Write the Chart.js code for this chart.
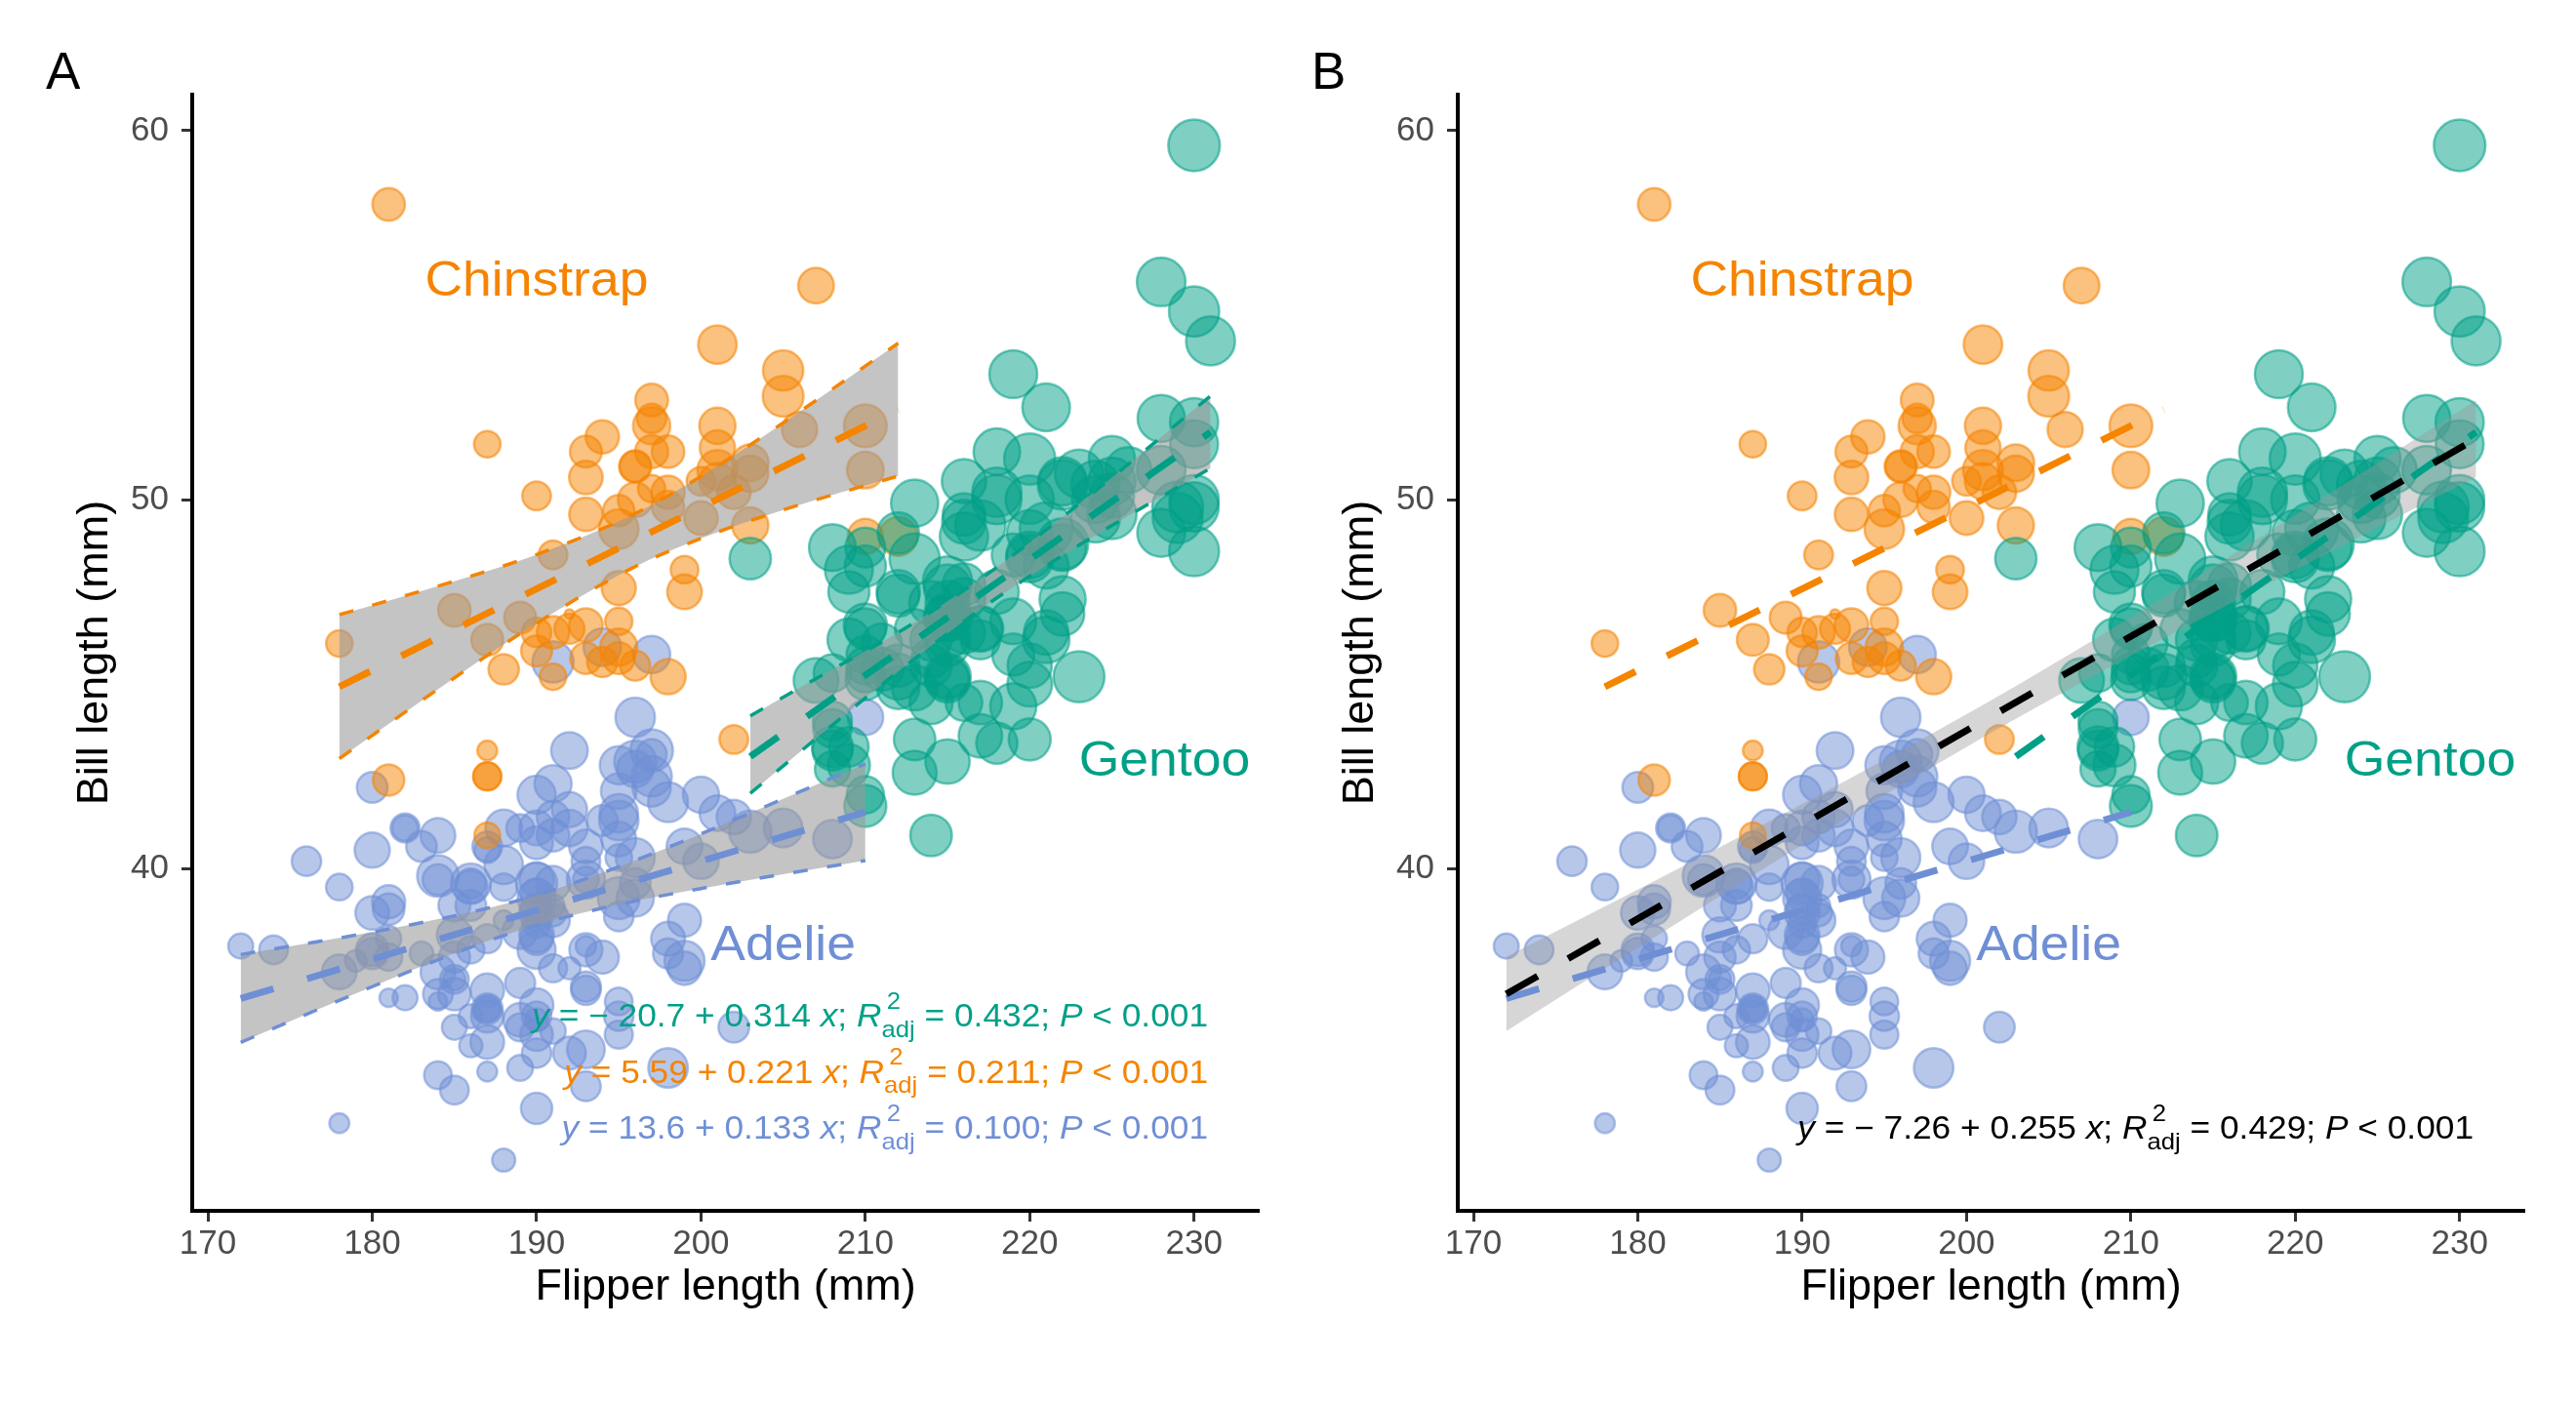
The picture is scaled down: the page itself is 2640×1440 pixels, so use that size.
<!DOCTYPE html>
<html><head><meta charset="utf-8">
<script src="https://cdn.jsdelivr.net/npm/chart.js@4.4.1/dist/chart.umd.min.js"></script>
<style>
html,body{margin:0;padding:0;background:#fff;}
#wrap{position:relative;width:2640px;height:1440px;overflow:hidden;background:#fff;}
canvas{position:absolute;top:0;}
</style></head><body>
<div id="wrap">
<canvas id="cA" width="1320" height="1440" style="left:0px"></canvas>
<canvas id="cB" width="1320" height="1440" style="left:1297px"></canvas>
</div>
<script>
// ---------------- data ----------------
const speciesNames = ['Adelie', 'Chinstrap', 'Gentoo'];
// rows: [flipper length (mm), bill length (mm), body mass (g)]
const adelie = [
[181,39.1,3750],[186,39.5,3800],[195,40.3,3250],[193,36.7,3450],[190,39.3,3650],[181,38.9,3625],[195,39.2,4675],[193,34.1,3475],[190,42.0,4250],[186,37.8,3300],
[180,37.8,3700],[182,41.1,3200],[191,38.6,3800],[198,34.6,4400],[185,36.6,3700],[195,38.7,3450],[197,42.5,4500],[184,34.4,3325],[194,46.0,4200],[174,37.8,3400],
[180,37.7,3600],[189,35.9,3800],[185,38.2,3950],[180,38.8,3800],[187,35.3,3800],[183,40.6,3550],[187,40.5,3200],[172,37.9,3150],[180,40.5,3950],[178,39.5,3250],
[178,37.2,3900],[188,39.5,3300],[184,40.9,3900],[195,36.4,3325],[196,39.2,4150],[190,38.8,3950],[180,42.2,3550],[181,37.6,3300],[184,39.8,4650],[182,36.5,3150],
[195,40.8,3900],[186,36.0,3100],[196,44.1,4400],[185,37.0,3000],[190,39.6,4600],[182,41.1,3425],[179,37.5,2975],[190,36.0,3450],[191,42.3,4150],[186,39.6,3500],
[188,40.1,4300],[190,35.0,3450],[200,42.0,4050],[187,34.5,2900],[191,41.4,3700],[186,39.0,3550],[193,40.6,3800],[181,36.5,2850],[194,37.6,3750],[185,35.7,3150],
[195,41.3,4400],[185,37.6,3600],[192,41.1,4050],[184,36.4,2850],[192,41.6,3950],[195,35.5,3350],[188,41.1,4100],[190,35.9,3050],[198,41.8,4450],[190,33.5,3600],
[190,39.7,3900],[196,39.6,3550],[197,45.8,4150],[190,35.5,3700],[195,42.8,4250],[191,40.9,3700],[184,37.2,3900],[187,36.2,3550],[195,42.1,4000],[189,34.6,3200],
[196,42.9,4700],[187,36.7,3800],[193,35.1,4200],[191,37.3,3350],[194,41.3,3550],[190,36.3,3800],[189,36.9,3500],[189,38.3,3950],[190,38.9,3600],[202,35.7,3550],
[205,41.1,4300],[185,34.0,3400],[186,39.6,4450],[187,36.2,3300],[208,40.8,4300],[190,38.1,3700],[196,40.3,4350],[178,33.1,2900],[192,43.2,4100],[192,35.0,3725],
[203,41.0,4725],[183,37.7,3075],[190,37.8,4250],[193,37.9,2925],[184,39.7,3550],[199,38.6,3750],[190,38.2,3900],[181,38.1,3175],[197,43.2,4775],[198,38.1,3825],
[191,45.6,4600],[193,39.7,3200],[197,42.2,4275],[191,39.6,3900],[196,42.7,4075],[188,38.6,2900],[199,37.3,3775],[189,35.7,3350],[189,41.1,3325],[187,36.2,3150],
[198,37.7,3500],[176,40.2,3450],[202,41.4,3875],[186,35.2,3050],[199,40.6,4000],[191,38.8,3275],[195,41.5,4300],[191,39.0,3050],[210,44.1,4000],[190,38.5,3325],
[197,43.1,3500],[193,36.8,3500],[199,37.5,4475],[187,38.1,3425],[190,41.1,3900],[191,35.6,3175],[200,40.2,3975],[185,37.0,3400],[193,39.7,4250],[193,40.2,3400],
[187,40.6,3475],[188,32.1,3050],[190,40.7,3725],[192,37.3,3000],[185,39.0,3650],[190,39.2,4250],[184,36.6,3475],[195,36.0,3450],[193,37.8,3750],[187,36.0,3700],
[201,41.5,4000]
];
const chinstrap = [
[192,46.5,3500],[196,50.0,3900],[193,51.3,3650],[188,45.4,3525],[197,52.7,3725],[198,45.2,3950],[178,46.1,3250],[197,51.3,3750],[195,46.0,4150],[198,51.3,3700],
[193,46.6,3800],[194,51.7,3775],[185,47.0,3700],[201,52.0,4050],[190,45.9,3575],[201,50.5,4050],[197,50.3,3300],[181,58.0,3700],[190,46.4,3450],[195,49.2,4400],
[181,42.4,3600],[191,48.5,3400],[187,43.2,2900],[193,50.6,3800],[195,46.7,3300],[197,52.0,4150],[200,50.5,3400],[200,49.5,3800],[191,46.4,3700],[205,52.8,4550],
[187,40.9,3200],[201,54.2,4300],[187,42.5,3350],[203,51.0,4100],[195,49.7,3600],[199,47.5,3900],[195,47.6,3850],[210,52.0,4800],[192,46.9,2700],[205,53.5,4500],
[210,49.0,3950],[187,46.2,3650],[196,50.9,3550],[196,45.5,3500],[196,50.9,3675],[201,50.8,4450],[190,50.1,3400],[212,49.0,4300],[187,51.5,3250],[198,49.8,3675],
[199,48.1,3325],[201,51.4,3950],[193,45.7,3600],[203,50.7,4050],[187,42.5,3350],[197,52.2,3450],[191,45.2,3250],[203,49.3,4050],[202,50.2,3800],[194,45.6,3525],
[206,51.9,3950],[189,46.8,3650],[195,45.7,3650],[207,55.8,4000],[202,43.5,3400],[193,49.6,3775],[210,50.8,4100],[198,50.2,3775]
];
const gentoo = [
[211,46.1,4500],[230,50.0,5700],[210,48.7,4450],[218,50.0,5700],[215,47.6,5400],[210,46.5,4550],[211,45.4,4800],[219,46.7,5200],[209,43.3,4400],[215,46.8,5150],
[214,40.9,4650],[216,49.0,5550],[214,45.5,4650],[213,48.4,5850],[210,45.8,4200],[217,49.3,5850],[210,42.0,4150],[221,49.2,6300],[209,46.2,4800],[222,48.7,5350],
[218,50.2,5700],[215,45.1,5000],[213,46.5,4400],[215,46.3,5050],[215,42.9,5000],[215,46.1,5100],[216,44.5,4100],[215,47.8,5650],[210,48.2,4600],[220,50.0,5550],
[222,47.3,5250],[209,42.8,4700],[207,45.1,5050],[230,59.6,6050],[220,49.1,5150],[220,48.4,5400],[213,42.6,4950],[219,44.4,5250],[208,44.0,4350],[208,48.7,5350],
[208,42.7,3950],[225,49.6,5700],[210,45.3,4300],[216,49.6,4750],[222,50.5,5550],[217,43.6,4900],[210,45.5,4200],[225,50.5,5400],[213,44.9,5100],[215,45.2,5300],
[210,46.6,4850],[220,48.5,5300],[210,45.1,4400],[225,50.1,5000],[217,46.5,4900],[220,45.0,5050],[208,43.8,4300],[220,45.5,5000],[208,43.2,4450],[224,50.4,5550],
[208,45.3,4200],[221,46.2,5300],[214,45.7,4400],[231,54.3,5650],[219,45.8,4700],[230,49.8,5700],[214,46.2,4650],[229,49.5,5800],[220,43.5,4700],[223,50.7,5550],
[216,47.7,4750],[221,46.4,5000],[221,48.2,5100],[217,46.5,5200],[216,46.4,4700],[230,48.6,5800],[209,47.5,4600],[220,51.1,6000],[215,45.2,4750],[223,45.2,5950],
[212,49.1,4625],[221,52.5,5450],[212,47.4,4725],[224,50.0,5350],[212,44.9,4750],[228,50.8,5600],[218,43.4,4600],[218,51.3,5300],[212,47.5,4875],[230,52.1,5550],
[218,47.5,4950],[228,52.2,5400],[212,45.5,4750],[224,49.5,5650],[214,44.5,4850],[226,50.8,5200],[216,49.4,4925],[222,46.9,4875],[203,48.4,4625],[225,51.1,5250],
[219,48.5,4850],[228,55.9,5600],[215,47.2,4975],[228,49.1,5500],[216,47.3,4725],[215,46.8,5500],[210,41.7,4700],[219,53.4,5500],[208,43.3,4575],[209,48.1,5500],
[216,50.5,5000],[229,49.8,5950],[213,43.5,4650],[230,51.5,5500],[217,46.2,4375],[230,55.1,5850],[217,44.5,4875],[222,48.8,6000],[214,47.2,4925],[215,46.8,4850],
[222,50.4,5750],[212,45.2,5200],[213,49.9,5400]
];
const massLimits = [2700, 6300];

// axes
const xLimits = [169.05, 233.95];
const yLimits = [30.725, 60.975];
const xTicks = [170, 180, 190, 200, 210, 220, 230];
const yTicks = [40, 50, 60];

// fitted lines, [x, y] end points
const adelieFit = [[172, 36.48], [210, 41.53]];
const chinstrapFit = [[178, 44.93], [212, 52.44]];
const gentooFit = [[203, 43.04], [231, 51.83]];
const overallFit = [[172, 36.60], [231, 51.65]];

// confidence bands
const adelieBandX  = [172, 180, 186, 190, 195, 200, 205, 210];
const adelieBandLo = [35.29, 36.80, 37.87, 38.47, 39.03, 39.46, 39.85, 40.22];
const adelieBandHi = [37.67, 38.28, 38.82, 39.28, 40.05, 40.94, 41.89, 42.84];
const chinstrapBandX  = [178, 185, 190, 195.8, 200, 205, 212];
const chinstrapBandLo = [42.98, 45.17, 46.65, 48.14, 48.95, 49.72, 50.64];
const chinstrapBandHi = [46.88, 47.79, 48.51, 49.58, 50.63, 52.08, 54.24];
const gentooBandX  = [203, 208, 212, 217.2, 222, 226, 231];
const gentooBandLo = [42.04, 43.89, 45.34, 47.09, 48.49, 49.56, 50.85];
const gentooBandHi = [44.14, 45.40, 46.40, 47.91, 49.53, 50.96, 52.81];
const overallBandX  = [172, 180, 190, 200.9, 210, 220, 231];
const overallBandLo = [35.60, 37.85, 40.64, 43.53, 45.77, 48.10, 50.61];
const overallBandHi = [37.61, 39.43, 41.75, 44.41, 46.81, 49.58, 52.69];

// text annotations
const labelX = [205, 190, 228.2];
const labelY = [38, 56, 43];
const eqIntercept = ['13.6', '5.59', '\u2212 20.7'];
const eqSlope = ['0.133', '0.221', '0.314'];
const eqR2 = ['0.100', '0.211', '0.432'];
const eqP = '0.001';
const eqY = [32.69, 34.20, 35.71];
const eqOverall = ['\u2212 7.26', '0.255', '0.429'];
const eqOverallY = 32.69;
const eqX = 230.85;

// ---------------- styles ----------------
const FAM = '"Liberation Sans", Arial, Helvetica, sans-serif';
const speciesColors = ['#6F8FD5', '#F58400', '#00A087'];
const speciesRows = [adelie, chinstrap, gentoo];
const speciesFits = [adelieFit, chinstrapFit, gentooFit];
const speciesBands = [
  [adelieBandX, adelieBandLo, adelieBandHi],
  [chinstrapBandX, chinstrapBandLo, chinstrapBandHi],
  [gentooBandX, gentooBandLo, gentooBandHi]
];
const TEXT_STRETCH = 1.07;
function rgba(hex, a) {
  const n = parseInt(hex.slice(1), 16);
  return 'rgba(' + ((n >> 16) & 255) + ',' + ((n >> 8) & 255) + ',' + (n & 255) + ',' + a + ')';
}
function radiusFor(m) {
  const t = Math.max(0, (m - massLimits[0]) / (massLimits[1] - massLimits[0]));
  return 4.9 + 22.3 * Math.sqrt(t);
}
function xy(xs, ys) { return xs.map((x, i) => ({x: x, y: ys[i]})); }

Chart.defaults.font.family = FAM;
Chart.defaults.animation = false;

function stretchedText(ctx, t, x, y, sx) {
  ctx.save(); ctx.translate(x, y); ctx.scale(sx, 1); ctx.fillText(t, 0, 0); ctx.restore();
}

function drawEquation(ctx, xRight, yBase, color, parts, fs) {
  const sx = TEXT_STRETCH;
  const reg = fs + 'px ' + FAM, it = 'italic ' + fs + 'px ' + FAM;
  const sfs = Math.round(fs * 0.73), small = sfs + 'px ' + FAM;
  const runs = [
    {t: 'y', f: it}, {t: ' = ' + parts[0] + ' + ' + parts[1] + ' ', f: reg}, {t: 'x', f: it},
    {t: '; ', f: reg}, {t: 'R', f: it}, {stack: true}, {t: ' = ' + parts[2] + '; ', f: reg},
    {t: 'P', f: it}, {t: ' < ' + eqP, f: reg}
  ];
  const supShift = fs * 0.15;
  let total = 0;
  runs.forEach(r => {
    if (r.stack) {
      ctx.font = small;
      r.w = Math.max(ctx.measureText('adj').width, ctx.measureText('2').width + supShift) * sx;
    } else { ctx.font = r.f; r.w = ctx.measureText(r.t).width * sx; }
    total += r.w;
  });
  let x = xRight - total;
  ctx.fillStyle = color; ctx.textAlign = 'left'; ctx.textBaseline = 'alphabetic';
  runs.forEach(r => {
    if (r.stack) {
      ctx.font = small;
      stretchedText(ctx, 'adj', x, yBase + fs * 0.33, sx);
      stretchedText(ctx, '2', x + supShift * sx, yBase - fs * 0.55, sx);
    } else { ctx.font = r.f; stretchedText(ctx, r.t, x, yBase, sx); }
    x += r.w;
  });
}

function textPlugin(panel) {
  return {
    id: 'texts' + panel,
    afterDatasetsDraw(chart) {
      const ctx = chart.ctx, xs = chart.scales.x, ys = chart.scales.y;
      ctx.save();
      if (panel === 'A') {
        for (let i = 0; i < 3; i++) {
          drawEquation(ctx, xs.getPixelForValue(eqX), ys.getPixelForValue(eqY[i]), speciesColors[i],
            [eqIntercept[i], eqSlope[i], eqR2[i]], 33);
        }
      } else {
        drawEquation(ctx, xs.getPixelForValue(eqX), ys.getPixelForValue(eqOverallY), '#000000', eqOverall, 33);
      }
      const lfs = 50;
      ctx.font = lfs + 'px ' + FAM; ctx.textAlign = 'center'; ctx.textBaseline = 'alphabetic';
      for (let i = 0; i < 3; i++) {
        ctx.fillStyle = speciesColors[i];
        stretchedText(ctx, speciesNames[i], xs.getPixelForValue(labelX[i]), ys.getPixelForValue(labelY[i]) + lfs * 0.358, TEXT_STRETCH);
      }
      ctx.restore();
    },
    afterDraw(chart) {
      const ctx = chart.ctx;
      ctx.save();
      ctx.font = '53px ' + FAM; ctx.fillStyle = '#000'; ctx.textAlign = 'left'; ctx.textBaseline = 'alphabetic';
      ctx.fillText(panel, 47, 91);
      ctx.restore();
    }
  };
}

function makeConfig(panel) {
  const datasets = [];
  // points (Adelie drawn first, Gentoo last)
  speciesRows.forEach((rows, i) => {
    datasets.push({
      type: 'scatter', label: speciesNames[i], order: 10 - i,
      data: rows.map(r => ({x: r[0], y: r[1]})),
      pointRadius: ctx => radiusFor(rows[ctx.dataIndex][2]),
      pointHoverRadius: ctx => radiusFor(rows[ctx.dataIndex][2]),
      pointBackgroundColor: rgba(speciesColors[i], 0.5),
      pointBorderColor: rgba(speciesColors[i], 0.55),
      pointBorderWidth: 2.5, showLine: false
    });
  });
  if (panel === 'A') {
    speciesBands.forEach((b, i) => {
      datasets.push({type: 'line', order: 2, data: xy(b[0], b[1]), borderColor: speciesColors[i], borderWidth: 3.5,
        borderDash: [15, 20], pointRadius: 0, fill: false, tension: 0.4, cubicInterpolationMode: 'monotone'});
      datasets.push({type: 'line', order: 2, data: xy(b[0], b[2]), borderColor: speciesColors[i], borderWidth: 3.5,
        borderDash: [15, 20], pointRadius: 0, fill: '-1', backgroundColor: 'rgba(153,153,153,0.58)', tension: 0.4, cubicInterpolationMode: 'monotone'});
    });
  } else {
    datasets.push({type: 'line', order: 3, data: xy(overallBandX, overallBandLo), borderWidth: 0, borderColor: 'rgba(0,0,0,0)',
      pointRadius: 0, fill: false, tension: 0.4, cubicInterpolationMode: 'monotone'});
    datasets.push({type: 'line', order: 3, data: xy(overallBandX, overallBandHi), borderWidth: 0, borderColor: 'rgba(0,0,0,0)',
      pointRadius: 0, fill: '-1', backgroundColor: 'rgba(153,153,153,0.4)', tension: 0.4, cubicInterpolationMode: 'monotone'});
  }
  speciesFits.forEach((f, i) => {
    datasets.push({type: 'line', order: panel === 'A' ? 1 : 2, data: f.map(p => ({x: p[0], y: p[1]})),
      borderColor: speciesColors[i], borderWidth: 7, borderDash: [35, 36], borderCapStyle: 'butt',
      pointRadius: 0, fill: false});
  });
  if (panel === 'B') {
    datasets.push({type: 'line', order: 0, data: overallFit.map(p => ({x: p[0], y: p[1]})),
      borderColor: '#000000', borderWidth: 7, borderDash: [37, 36], borderCapStyle: 'butt', pointRadius: 0, fill: false});
  }
  const tickFont = {size: 35, family: FAM};
  return {
    type: 'scatter',
    data: {datasets: datasets},
    options: {
      responsive: false, animation: false, events: [], devicePixelRatio: 1,
      layout: {padding: {left: 0, top: 97, right: 17, bottom: 0}},
      plugins: {legend: {display: false}, tooltip: {enabled: false}, filler: {propagate: false}},
      scales: {
        x: {
          type: 'linear', min: xLimits[0], max: xLimits[1],
          afterBuildTicks: s => { s.ticks = xTicks.map(v => ({value: v})); },
          afterFit: s => { s.height = 199; },
          ticks: {font: tickFont, color: '#4D4D4D', padding: 2, autoSkip: false, maxRotation: 0, includeBounds: false},
          grid: {display: true, drawOnChartArea: false, drawTicks: true, tickLength: 11, tickColor: '#333333', tickWidth: 3},
          border: {display: true, color: '#000000', width: 4},
          title: {display: true, text: 'Flipper length (mm)', color: '#000000', font: {size: 45, family: FAM}, padding: {top: 0, bottom: 93}}
        },
        y: {
          type: 'linear', min: yLimits[0], max: yLimits[1],
          afterBuildTicks: s => { s.ticks = yTicks.map(v => ({value: v})); },
          afterFit: s => { s.width = 197; },
          ticks: {font: tickFont, color: '#4D4D4D', padding: 13, autoSkip: false, includeBounds: false},
          grid: {display: true, drawOnChartArea: false, drawTicks: true, tickLength: 11, tickColor: '#333333', tickWidth: 3},
          border: {display: true, color: '#000000', width: 4},
          title: {display: true, text: 'Bill length (mm)', color: '#000000', font: {size: 45, family: FAM}, padding: {top: 71, bottom: 0}}
        }
      }
    },
    plugins: [textPlugin(panel)]
  };
}

new Chart(document.getElementById('cA'), makeConfig('A'));
new Chart(document.getElementById('cB'), makeConfig('B'));
</script>
</body></html>
